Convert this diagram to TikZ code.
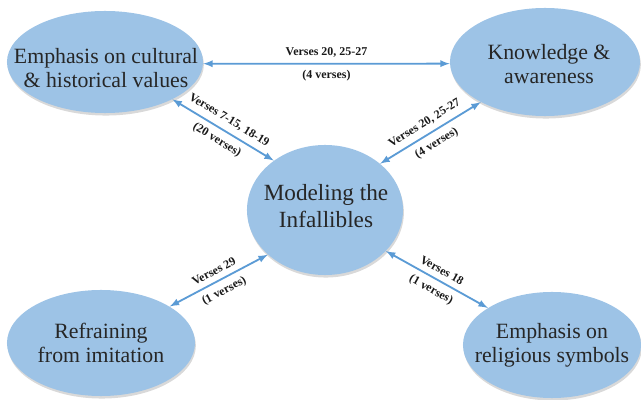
\documentclass[tikz,border=0pt]{standalone}
\usepackage{fontspec}
\setmainfont{Liberation Serif}
\usetikzlibrary{shapes.geometric,shadows,arrows.meta}
\definecolor{bubble}{HTML}{9DC3E6}
\definecolor{arrowblue}{HTML}{5B9BD5}

\begin{document}
\begin{tikzpicture}[x=0.025cm,y=-0.025cm,
	topic/.style={ellipse, fill=bubble, inner sep=0pt, drop shadow={opacity=0.3,shadow xshift=0.6pt,shadow yshift=-1.8pt}},
	topictext/.style={align=center, text=black!85, font=\fontsize{15.5}{17}\selectfont},
	verses/.style={midway, sloped, inner sep=4pt, text=black!90, font=\bfseries\fontsize{8.5}{9}\selectfont},
	link/.style={line width=1.3pt, draw=arrowblue, arrows={latex-latex}}]

	\useasboundingbox (0,0) rectangle (641,400);

	% Ellipses
	\node[topic, minimum width=4.9cm, minimum height=2.55cm] (tl) at (105,62) {};
	\node[topic, minimum width=4.75cm, minimum height=2.7cm] (tr) at (545,62) {};
	\node[topic, minimum width=3.9cm, minimum height=3.25cm] (mid) at (325,210) {};
	\node[topic, minimum width=4.7cm, minimum height=2.65cm] (bl) at (101,343) {};
	\node[topic, minimum width=4.45cm, minimum height=2.65cm] (br) at (552,345) {};

	% Texts
	\node[topictext] (tltext) at (106,68) {Emphasis on cultural\\\& historical values};
	\node[topictext] (trtext) at (549,64) {Knowledge \&\\awareness};
	\node[topictext, font=\fontsize{16.5}{19}\selectfont] (midtext) at (326,206) {Modeling the\\Infallibles};
	\node[topictext] (bltext) at (101,343) {Refraining\\from imitation};
	\node[topictext] (brtext) at (552,345) {Emphasis on\\religious symbols};

	% Links
	\draw[link] (tl.-1.5) -- (tr.181.5) node[verses, above] (v1a) {Verses 20, 25-27} node[verses, below] (v1b) {(4 verses)};
	\draw[link] (tl.-29) -- (mid.136) node[verses, above] (v2a) {Verses 7-15, 18-19} node[verses, below] (v2b) {(20 verses)};
	\draw[link] (mid.40) -- (tr.-148) node[verses, above] (v3a) {Verses 20, 25-27} node[verses, below] (v3b) {(4 verses)};
	\draw[link] (bl.28) -- (mid.-142) node[verses, above] (v4a) {Verses 29} node[verses, below] (v4b) {(1 verses)};
	\draw[link] (mid.-34) -- (br.150) node[verses, above] (v5a) {Verses 18} node[verses, below] (v5b) {(1 verses)};

\end{tikzpicture}
\end{document}
